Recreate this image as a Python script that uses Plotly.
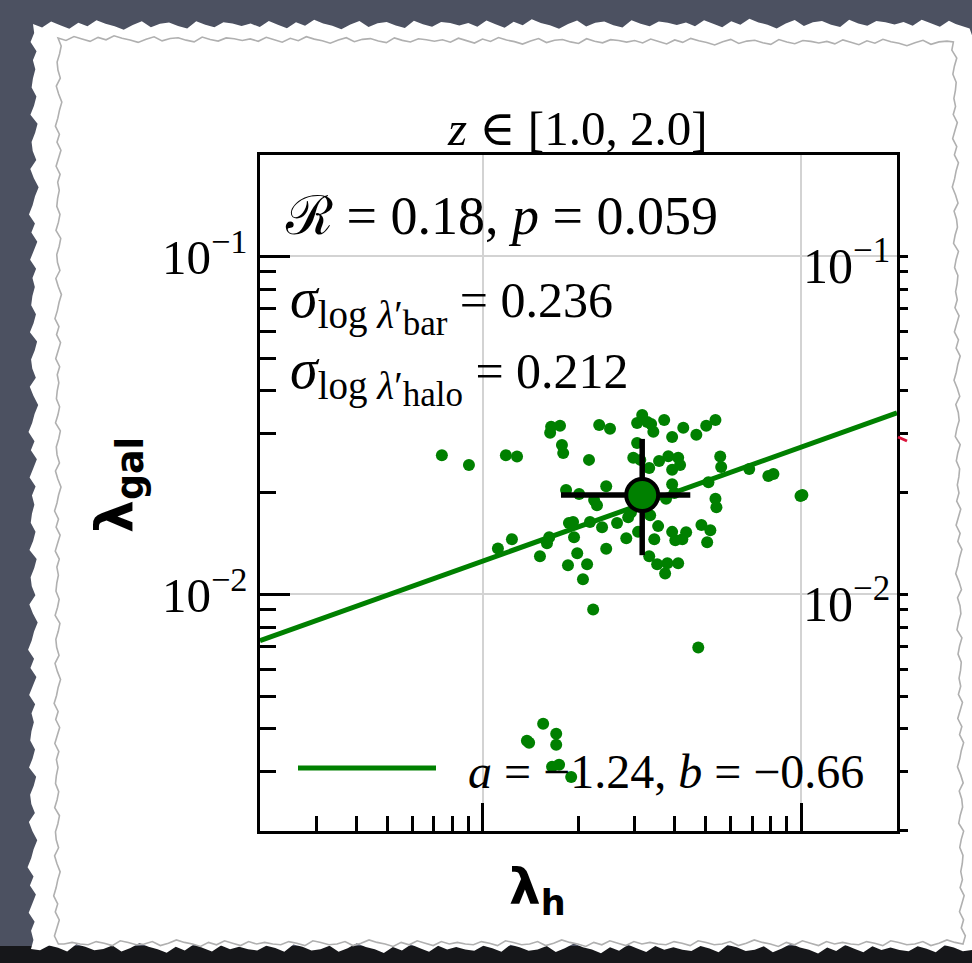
import plotly.graph_objects as go

# ---------------- data (log10 values) ----------------
log_lambda_h = [
    -2.129, -2.044, -1.928, -1.893, -1.786, -1.758, -1.789, -1.752, -1.748, -1.667,
    -1.635, -1.601, -1.500, -1.516, -1.484, -1.472, -1.465, -1.431, -1.406, -1.371,
    -1.330, -1.299, -1.270, -1.516, -1.528, -1.506, -1.447, -1.418, -1.387, -1.381,
    -1.406, -1.255, -1.252, -1.164, -1.104, -1.088, -0.997, -1.292, -1.270, -1.267,
    -1.406, -1.399, -1.425, -1.613, -1.739, -1.698, -1.651, -1.642, -1.717, -1.664,
    -1.626, -1.579, -1.544, -1.714, -1.792, -1.799, -1.909, -1.953, -1.821, -1.704,
    -1.673, -1.733, -1.686, -1.613, -1.550, -1.513, -1.450, -1.406, -1.362, -1.374,
    -1.396, -1.314, -1.286, -1.296, -1.462, -1.478, -1.453, -1.421, -1.387, -1.428,
    -1.654, -1.324, -1.811, -1.862, -1.855, -1.770, -1.770, -1.783, -1.761, -1.723,
    -1.535, -1.478, -1.730, -1.475, -1.003,
]
log_lambda_gal = [
    -1.588, -1.617, -1.588, -1.592, -1.504, -1.501, -1.522, -1.558, -1.582, -1.602,
    -1.499, -1.510, -1.469, -1.493, -1.490, -1.496, -1.519, -1.484, -1.534, -1.507,
    -1.528, -1.501, -1.484, -1.552, -1.596, -1.602, -1.605, -1.591, -1.596, -1.617,
    -1.631, -1.592, -1.623, -1.629, -1.650, -1.644, -1.706, -1.668, -1.717, -1.742,
    -1.674, -1.700, -1.717, -1.680, -1.691, -1.703, -1.721, -1.736, -1.786, -1.786,
    -1.801, -1.789, -1.772, -1.831, -1.831, -1.849, -1.837, -1.864, -1.887, -1.878,
    -1.911, -1.914, -1.955, -1.865, -1.834, -1.815, -1.798, -1.815, -1.816, -1.837,
    -1.840, -1.795, -1.810, -1.846, -1.837, -1.887, -1.911, -1.908, -1.908, -1.938,
    -2.045, -2.157, -2.383, -2.433, -2.439, -2.412, -2.445, -2.510, -2.504, -2.540,
    -1.757, -1.626, -1.789, -1.766, -1.709,
]

# median point and its spread (log10)
mean_log_h = -1.500
mean_log_gal = -1.706
range_log_h = [-1.755, -1.349]
range_log_gal = [-1.884, -1.540]

# fit line (at the axis limits)
fit_log_h = [-2.7, -0.7]
fit_log_gal = [-2.137, -1.463]
fit_a, fit_b = -1.24, -0.66

stat_R, stat_p = 0.18, 0.059
sigma_bar, sigma_halo = 0.236, 0.212
z_lo, z_hi = 1.0, 2.0

major_ticks = [0.01, 0.1]
major_text = ["10<sup>\u22122</sup>", "10<sup>\u22121</sup>"]

# ---------------- derived -------------------------------------------------
lam_h = [10 ** v for v in log_lambda_h]
lam_gal = [10 ** v for v in log_lambda_gal]
mx, my = 10 ** mean_log_h, 10 ** mean_log_gal
ex_minus = mx - 10 ** range_log_h[0]
ex_plus = 10 ** range_log_h[1] - mx
ey_minus = my - 10 ** range_log_gal[0]
ey_plus = 10 ** range_log_gal[1] - my
minor_vals = [k * 10 ** e for e in (-3, -2, -1) for k in range(2, 10)]

W, H = 972, 963
L, R, T, B = 260, 897, 155, 831


def px(X):
    return (X - L) / (R - L)


def py(Y):
    return (B - Y) / (B - T)


GREEN = "#008000"
SERIF = "Liberation Serif, DejaVu Serif, serif"
SANS = "DejaVu Sans, Noto Sans, sans-serif"

fig = go.Figure()
fig.add_trace(go.Scatter(x=lam_h, y=lam_gal, mode="markers",
                         marker=dict(size=12, color=GREEN, line=dict(width=0)),
                         showlegend=False, hoverinfo="skip"))
fig.add_trace(go.Scatter(x=[10 ** v for v in fit_log_h], y=[10 ** v for v in fit_log_gal],
                         mode="lines", line=dict(color=GREEN, width=5),
                         showlegend=False, hoverinfo="skip"))
fig.add_trace(go.Scatter(x=[mx], y=[my], mode="markers",
                         marker=dict(size=32, color=GREEN, line=dict(color="black", width=4)),
                         error_x=dict(type="data", symmetric=False, array=[ex_plus], arrayminus=[ex_minus],
                                      color="black", thickness=5.5, width=0),
                         error_y=dict(type="data", symmetric=False, array=[ey_plus], arrayminus=[ey_minus],
                                      color="black", thickness=5.5, width=0),
                         showlegend=False, hoverinfo="skip"))
# invisible trace to activate the neighbouring-panel spine axis
fig.add_trace(go.Scatter(x=[mx], y=[my], yaxis="y2", mode="markers",
                         marker=dict(size=1, opacity=0), showlegend=False, hoverinfo="skip"))

axis_common = dict(type="log", range=[-2.7, -0.7], tickmode="array", tickvals=major_ticks,
                   ticks="inside", tickwidth=2.5, tickcolor="black",
                   showline=True, linecolor="black", linewidth=2.5, mirror=True,
                   showgrid=True, gridcolor="#d3d3d3", gridwidth=1.5, zeroline=False)

fig.update_layout(
    width=W, height=H, autosize=False,
    margin=dict(l=L, r=W - R, t=T, b=H - B),
    paper_bgcolor="#4c5161", plot_bgcolor="white",
    showlegend=False,
    xaxis=dict(**axis_common, ticklen=28, showticklabels=False,
               minor=dict(tickvals=minor_vals, ticks="inside", ticklen=15, tickwidth=2.5,
                          tickcolor="black", showgrid=False)),
    yaxis=dict(**axis_common, ticklen=30, ticktext=major_text, showticklabels=True,
               tickfont=dict(family=SERIF, size=49, color="black"),
               minor=dict(tickvals=minor_vals, ticks="inside", ticklen=16, tickwidth=2.5,
                          tickcolor="black", showgrid=False)),
    yaxis2=dict(type="log", range=[-2.7, -0.7], overlaying="y", side="right",
                tickmode="array", tickvals=major_ticks, ticks="outside", ticklen=8,
                tickwidth=2.5, tickcolor="black", showticklabels=False,
                showline=True, linecolor="black", linewidth=2.5, showgrid=False, zeroline=False,
                minor=dict(tickvals=minor_vals, ticks="outside", ticklen=8, tickwidth=2.5,
                           tickcolor="black", showgrid=False)),
)

# ---------------- torn-paper frame (decoration) ----------------------------
jit = [0, 3, -2, 1, 4, -1, 2, -3, 0, 2, 5, 1, -2, 3, 0, -1, 2, 4, -2, 1, 3, -1, 0, 2]


def jagged(corners, step, amp):
    pts = []
    k = 0
    n = len(corners)
    for i in range(n):
        (x0, y0), (x1, y1) = corners[i], corners[(i + 1) % n]
        length = max(abs(x1 - x0), abs(y1 - y0))
        m = max(1, int(length // step))
        dx, dy = (x1 - x0), (y1 - y0)
        nx, ny = (-dy / length, dx / length)
        for j in range(m):
            t = j / m
            o = jit[k % len(jit)] * amp
            k += 1
            pts.append((x0 + dx * t + nx * o, y0 + dy * t + ny * o))
    return "M " + " L ".join(f"{px(x):.4f},{py(y):.4f}" for x, y in pts) + " Z"


shapes = [
    dict(type="rect", xref="paper", yref="paper", x0=px(-5), x1=px(980), y0=py(970), y1=py(946),
         fillcolor="#16171a", line=dict(width=0), layer="below"),
    dict(type="path", xref="paper", yref="paper", layer="below",
         path=jagged([(33, 24), (958, 22), (990, 60), (990, 950), (31, 949)], 9, 1.2),
         fillcolor="white", line=dict(width=0)),
    dict(type="path", xref="paper", yref="paper", layer="below",
         path=jagged([(58, 38), (955, 42), (963, 944), (56, 944)], 8, 0.8),
         fillcolor="rgba(0,0,0,0)", line=dict(color="#b0b0b0", width=1.6)),
    # legend line
    dict(type="line", xref="paper", yref="paper", x0=px(298), x1=px(436), y0=py(768), y1=py(768),
         line=dict(color=GREEN, width=5)),
    # fragment of the neighbouring panel's curve
    dict(type="line", xref="paper", yref="paper", x0=px(898), x1=px(907), y0=py(437), y1=py(441),
         line=dict(color="crimson", width=3)),
]
fig.update_layout(shapes=shapes)


def sigma_text(name, val):
    return ("<span style='font-size:56px'><i>\u03c3</i></span>"
            "<sub><span style='font-size:39px'>log <i>\u03bb</i>\u2032</span>"
            f"<sub><span style='font-size:35px'>{name}</span></sub></sub>"
            f" = {val}")


ann = [
    dict(x=px(577), y=py(128), text=f"<i>z</i> \u2208 [{z_lo:.1f}, {z_hi:.1f}]",
         font=dict(family=SERIF, size=49, color="black"), xanchor="center", yanchor="middle"),
    dict(x=px(283), y=py(216), text=f"\u211b = {stat_R}, <i>p</i> = {stat_p}",
         font=dict(family=SERIF, size=54, color="black"), xanchor="left", yanchor="middle"),
    dict(x=px(288), y=py(305), text=sigma_text("bar", sigma_bar),
         font=dict(family=SERIF, size=50, color="black"), xanchor="left", yanchor="middle"),
    dict(x=px(288), y=py(376), text=sigma_text("halo", sigma_halo),
         font=dict(family=SERIF, size=50, color="black"), xanchor="left", yanchor="middle"),
    dict(x=px(466), y=py(771), text=f"<i>a</i> = \u2212{abs(fit_a):.2f}, <i>b</i> = \u2212{abs(fit_b):.2f}",
         font=dict(family=SERIF, size=48, color="black"), xanchor="left", yanchor="middle"),
    dict(x=px(892), y=py(262), text=major_text[1],
         font=dict(family=SERIF, size=50, color="black"), xanchor="right", yanchor="middle"),
    dict(x=px(892), y=py(600), text=major_text[0],
         font=dict(family=SERIF, size=50, color="black"), xanchor="right", yanchor="middle"),
    dict(x=px(118), y=py(485), text="<b>\u03bb<sub>gal</sub></b>", textangle=-90,
         font=dict(family=SANS, size=52, color="black"), xanchor="center", yanchor="middle"),
    dict(x=px(537), y=py(890), text="<b>\u03bb<sub>h</sub></b>",
         font=dict(family=SANS, size=50, color="black"), xanchor="center", yanchor="middle"),
]
for a in ann:
    a.update(xref="paper", yref="paper", showarrow=False)
fig.update_layout(annotations=ann)

fig.write_html("out.html")
